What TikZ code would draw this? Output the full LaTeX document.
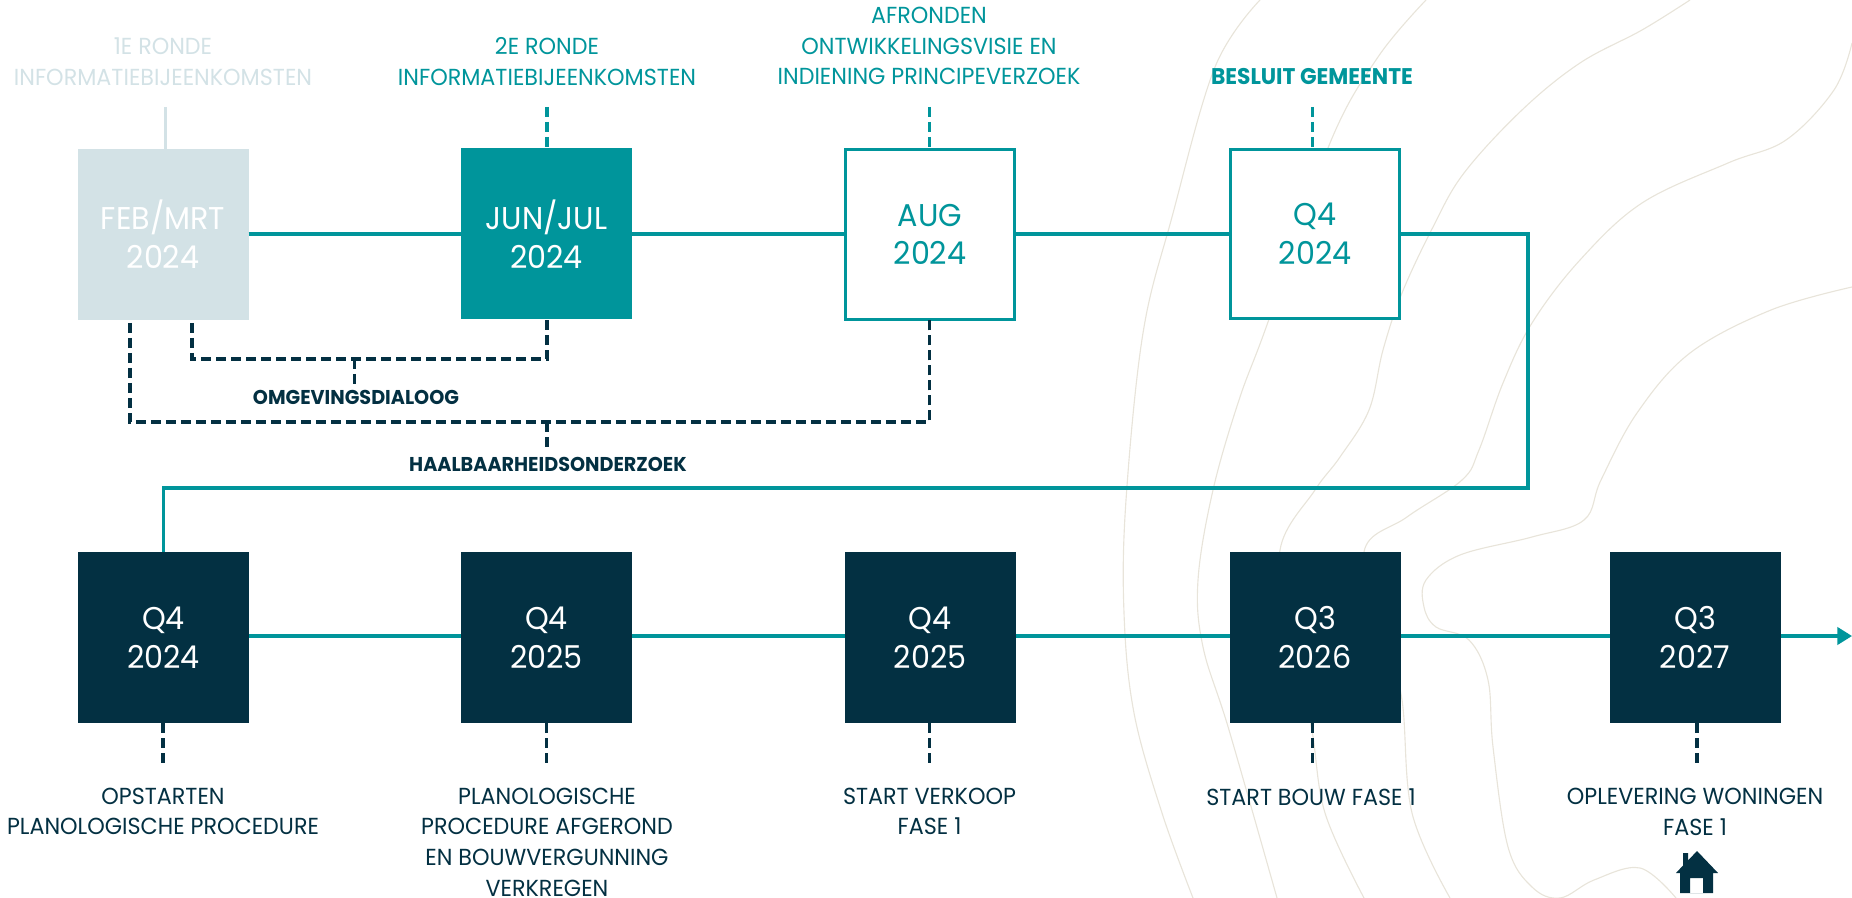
\documentclass[tikz,border=0pt]{standalone}
\usepackage{fontspec}
\setmainfont[FakeStretch=0.96]{Poppins}
\usetikzlibrary{arrows.meta}
\definecolor{teal1}{HTML}{00959B}
\definecolor{navy1}{HTML}{033042}
\definecolor{pale1}{HTML}{D3E2E6}
\definecolor{sand1}{HTML}{E8E4DA}
\tikzset{
  pic/.style={x=0.75pt,y=-0.75pt},
  contour/.style={draw=sand1,line width=0.85pt},
  boxbase/.style={rectangle,inner sep=0pt,outer sep=0pt,minimum width=128.25pt,minimum height=128.25pt,align=center,font=\fontsize{23.6}{29}\selectfont},
  palebox/.style={boxbase,fill=pale1,text=white},
  tealbox/.style={boxbase,fill=teal1,text=white},
  linebox/.style={boxbase,draw=teal1,line width=2.25pt,fill=white,text=teal1,minimum width=127pt,minimum height=127pt},
  navybox/.style={boxbase,fill=navy1,text=white},
  label/.style={inner sep=0pt,align=center,font=\fontsize{17.4}{23}\selectfont},
  boldlabel/.style={inner sep=0pt,align=center,font=\fontsize{17}{23}\selectfont\bfseries},
  smallbold/.style={inner sep=0pt,align=center,font=\fontsize{15}{18}\selectfont\bfseries},
  flow/.style={draw=teal1,line width=2.3pt},
  dashbase/.style={line width=2.5pt,dash pattern=on 7.5pt off 3.75pt},
  dashteal/.style={dashbase,draw=teal1},
  dashnavy/.style={dashbase,draw=navy1},
}
\begin{document}
\begin{tikzpicture}[pic]
\useasboundingbox (0,0) rectangle (1852,898);
% contour lines
\draw[contour] plot[smooth,tension=0.6] coordinates {(1260,0)(1215,67)(1172,217)(1143,333)(1126,500)(1124,613)(1134,713)(1162,813)(1193,898)};
\draw[contour] plot[smooth,tension=0.6] coordinates {(1426,0)(1378,57)(1330,143)(1268,322)(1239,400)(1213,490)(1198,580)(1203,647)(1229,730)(1277,898)};
\draw[contour] plot[smooth,tension=0.6] coordinates {(1690,0)(1642,30)(1580,63)(1522,110)(1464,173)(1433,227)(1402,293)(1383,350)(1369,410)(1340,457)(1315,490)(1280,550)(1290,640)(1311,725)(1325,813)(1364,898)};
\draw[contour] plot[smooth,tension=0.6] coordinates {(1852,43)(1834,90)(1786,140)(1728,163)(1642,203)(1580,260)(1532,323)(1503,383)(1479,450)(1462,480)(1407,517)(1364,552)(1385,640)(1402,700)(1412,813)(1450,898)};
\draw[contour] plot[smooth,tension=0.6] coordinates {(1852,287)(1771,310)(1690,353)(1637,413)(1601,480)(1584,520)(1532,537)(1460,555)(1426,580)(1424,607)(1436,627)(1469,640)(1488,680)(1493,747)(1508,847)(1532,887)(1560,898)(1594,880)(1640,868)(1676,898)};
% top-row boxes
\node[palebox] (feb) at (163,234.5) {FEB/MRT\\2024};
\node[tealbox] (jun) at (546.5,234) {JUN/JUL\\2024};
\node[linebox] (aug) at (930,234.5) {AUG\\2024};
\node[linebox] (qa) at (1315,234) {Q4\\2024};
% bottom-row boxes
\node[navybox] (qb) at (163.5,637.5) {Q4\\2024};
\node[navybox] (qc) at (546.5,637.5) {Q4\\2025};
\node[navybox] (qd) at (930,637.5) {Q4\\2025};
\node[navybox] (qe) at (1315,637.5) {Q3\\2026};
\node[navybox] (qf) at (1695,637.5) {Q3\\2027};
% top labels
\node[label,text=pale1] (la) at (163,61.5) {1E RONDE\\INFORMATIEBIJEENKOMSTEN};
\node[label,text=teal1] (lb) at (547,61.5) {2E RONDE\\INFORMATIEBIJEENKOMSTEN};
\node[label,text=teal1] (lc) at (929,46) {AFRONDEN\\ONTWIKKELINGSVISIE EN\\INDIENING PRINCIPEVERZOEK};
\node[boldlabel,text=teal1] (ld) at (1312,77) {BESLUIT GEMEENTE};
% dash labels
\node[smallbold,text=navy1] (om) at (356,397) {OMGEVINGSDIALOOG};
\node[smallbold,text=navy1] (ha) at (548,464) {HAALBAARHEIDSONDERZOEK};
% bottom labels
\node[label,text=navy1] (le) at (163,811.5) {OPSTARTEN\\PLANOLOGISCHE PROCEDURE};
\node[label,text=navy1] (lf) at (547,842) {PLANOLOGISCHE\\PROCEDURE AFGEROND\\EN BOUWVERGUNNING\\VERKREGEN};
\node[label,text=navy1] (lg) at (929.5,811.5) {START VERKOOP\\FASE 1};
\node[label,text=navy1] (lh) at (1311,797) {START BOUW FASE 1};
\node[label,text=navy1] (li) at (1695,812) {OPLEVERING WONINGEN\\FASE 1};
% free connector ends
\coordinate (ta) at (165.5,107);
\coordinate (tb) at (547,107);
\coordinate (tc) at (929.5,107);
\coordinate (td) at (1312.5,107);
\coordinate (f1) at (192,323);
\coordinate (f2) at (192,359);
\coordinate (j2) at (547,359);
\coordinate (om1) at (354.5,359);
\coordinate (om2) at (354.5,385);
\coordinate (f3) at (130,323);
\coordinate (f4) at (130,422);
\coordinate (a2) at (929.5,422);
\coordinate (ha1) at (547,422);
\coordinate (ha2) at (547,451);
\coordinate (b1) at (1528,234);
\coordinate (b2) at (1528,488);
\coordinate (b3) at (163.5,488);
\coordinate (e) at (1852,636);
\coordinate (u1) at (163,765);
\coordinate (u2) at (546.5,765);
\coordinate (u3) at (929.5,765);
\coordinate (u4) at (1312.5,765);
\coordinate (u5) at (1697,765);
% solid flow
\draw[flow] (feb.east|-0,234) -- (jun.west|-0,234);
\draw[flow] (jun.east|-0,234) -- (aug.west|-0,234);
\draw[flow] (aug.east|-0,234) -- (qa.west|-0,234);
\draw[flow] (qa.east|-0,234) -- (b1) -- (b2) -- (b3) -- (qb.north);
\draw[flow] (qb.east|-0,636) -- (qc.west|-0,636);
\draw[flow] (qc.east|-0,636) -- (qd.west|-0,636);
\draw[flow] (qd.east|-0,636) -- (qe.west|-0,636);
\draw[flow] (qe.east|-0,636) -- (qf.west|-0,636);
\draw[flow,-{Triangle[length=11pt,width=13pt]}] (qf.east|-0,636) -- (e);
% top connectors
\draw[draw=pale1,line width=1.8pt] (ta) -- (ta|-feb.north);
\draw[dashteal] (tb) -- (tb|-jun.north);
\draw[dashteal] (tc) -- (tc|-aug.north);
\draw[dashteal] (td) -- (td|-qa.north);
% dashed brackets
\draw[dashnavy] (f1) -- (f2) -- (j2) -- (j2|-jun.south);
\draw[dashnavy] (om1) -- (om2);
\draw[dashnavy] (f3) -- (f4) -- (a2) -- (a2|-aug.south);
\draw[dashnavy] (ha1) -- (ha2);
% bottom connectors
\draw[dashnavy] (qb.south-|u1) -- (u1);
\draw[dashnavy] (qc.south-|u2) -- (u2);
\draw[dashnavy] (qd.south-|u3) -- (u3);
\draw[dashnavy] (qe.south-|u4) -- (u4);
\draw[dashnavy] (qf.south-|u5) -- (u5);
% house icon
\fill[navy1,even odd rule] (1697,851) -- (1718,873) -- (1713,873) -- (1713,893) -- (1680,893) -- (1680,873) -- (1676,873) -- (1683,865.5) -- (1683,853) -- (1688,853) -- (1688,860.5) -- cycle
  (1690,878) rectangle (1703,893);
\end{tikzpicture}
\end{document}
